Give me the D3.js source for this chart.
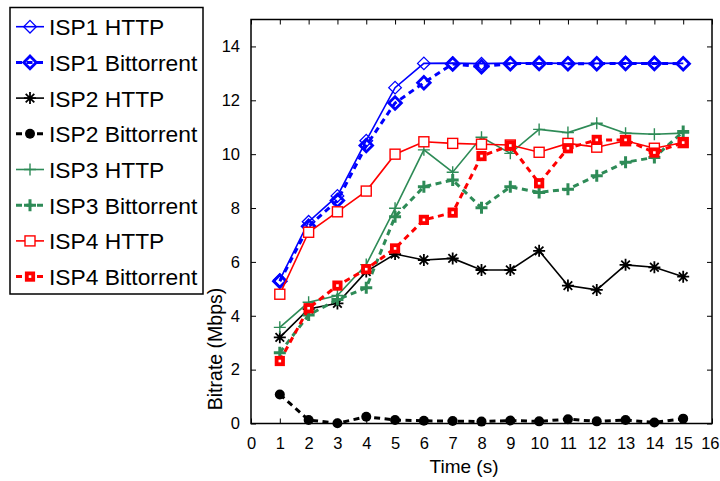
<!DOCTYPE html>
<html>
<head>
<meta charset="utf-8">
<script src="https://cdn.jsdelivr.net/npm/d3@7"></script>
<style>
	body { margin: 0; background: #fff; }
	svg { font-family: 'Liberation Sans', Arial, sans-serif; }
</style>
</head>
<body>
<svg id="chart-svg" width="720" height="481"></svg>
<script>
// data
const times = [1, 2, 3, 4, 5, 6, 7, 8, 9, 10, 11, 12, 13, 14, 15];
const isp1Http = [5.33, 7.49, 8.45, 10.5, 12.47, 13.37, 13.38, 13.36, 13.38, 13.38, 13.37, 13.37, 13.38, 13.38, 13.37];
const isp1Bt = [5.28, 7.32, 8.28, 10.32, 11.9, 12.65, 13.35, 13.25, 13.36, 13.37, 13.36, 13.36, 13.37, 13.37, 13.36];
const isp2Http = [3.2, 4.25, 4.46, 5.64, 6.29, 6.07, 6.13, 5.7, 5.7, 6.41, 5.12, 4.96, 5.89, 5.8, 5.45];
const isp2Bt = [1.08, 0.13, 0.01, 0.25, 0.13, 0.1, 0.09, 0.07, 0.11, 0.08, 0.16, 0.08, 0.13, 0.04, 0.18];
const isp3Http = [3.57, 4.5, 4.75, 5.9, 7.99, 10.16, 9.33, 10.63, 10.03, 10.92, 10.8, 11.15, 10.78, 10.74, 10.78];
const isp3Bt = [2.63, 4.03, 4.6, 5.04, 7.68, 8.79, 9.04, 8.01, 8.79, 8.58, 8.7, 9.2, 9.7, 9.88, 10.84];
const isp4Http = [4.8, 7.1, 7.86, 8.63, 10.0, 10.46, 10.4, 10.37, 10.34, 10.07, 10.4, 10.26, 10.5, 10.22, 10.43];
const isp4Bt = [2.32, 4.28, 5.12, 5.73, 6.5, 7.56, 7.83, 9.93, 10.32, 8.92, 10.22, 10.53, 10.53, 10.06, 10.43];

const xTicks = d3.range(0, 17);
const yTicks = [0, 2, 4, 6, 8, 10, 12, 14];

const GREEN = '#2e8b57';
const series = [
	{ name: 'ISP1 HTTP', values: isp1Http, color: '#0000ff', dashed: false, marker: 'diamond' },
	{ name: 'ISP1 Bittorrent', values: isp1Bt, color: '#0000ff', dashed: true, marker: 'diamond' },
	{ name: 'ISP2 HTTP', values: isp2Http, color: '#000000', dashed: false, marker: 'star' },
	{ name: 'ISP2 Bittorrent', values: isp2Bt, color: '#000000', dashed: true, marker: 'dot' },
	{ name: 'ISP3 HTTP', values: isp3Http, color: GREEN, dashed: false, marker: 'plus' },
	{ name: 'ISP3 Bittorrent', values: isp3Bt, color: GREEN, dashed: true, marker: 'plus' },
	{ name: 'ISP4 HTTP', values: isp4Http, color: '#ff0000', dashed: false, marker: 'square' },
	{ name: 'ISP4 Bittorrent', values: isp4Bt, color: '#ff0000', dashed: true, marker: 'square' }
];

const svg = d3.select('#chart-svg');
const x = d3.scaleLinear().domain([0, 16]).range([251, 712]);
const y = d3.scaleLinear().domain([0, 15]).range([423.5, 19.5]);

// plot box
svg.append('rect')
	.attr('x', 251).attr('y', 19.5)
	.attr('width', 461).attr('height', 404)
	.attr('fill', 'none').attr('stroke', '#000').attr('stroke-width', 1.5);

// axes with inward ticks
const tickLen = 5;
const xAxis = svg.append('g').attr('transform', 'translate(0,' + y(0) + ')')
	.call(d3.axisBottom(x).tickValues(xTicks).tickSizeInner(-tickLen).tickSizeOuter(0).tickPadding(14));
const xTop = svg.append('g').attr('transform', 'translate(0,' + y(15) + ')')
	.call(d3.axisTop(x).tickValues(xTicks).tickSizeInner(-tickLen).tickSizeOuter(0).tickFormat(''));
const yAxis = svg.append('g').attr('transform', 'translate(' + x(0) + ',0)')
	.call(d3.axisLeft(y).tickValues(yTicks).tickSizeInner(-tickLen).tickSizeOuter(0).tickPadding(11));
const yRight = svg.append('g').attr('transform', 'translate(' + x(16) + ',0)')
	.call(d3.axisRight(y).tickValues(yTicks).tickSizeInner(-tickLen).tickSizeOuter(0).tickFormat(''));
[xAxis, xTop, yAxis, yRight].forEach((g) => {
	g.select('.domain').remove();
	g.selectAll('line').attr('stroke', '#000').attr('stroke-width', 1);
	g.selectAll('text').attr('font-size', 16.5).attr('fill', '#000')
		.style('font-family', "'Liberation Sans', Arial, sans-serif");
});
// keep the last x label inside the window
xAxis.selectAll('text').filter((d) => d === 16).attr('text-anchor', 'end').attr('dx', 7);

// axis titles
svg.append('text')
	.attr('x', 464).attr('y', 473)
	.attr('text-anchor', 'middle').attr('font-size', 19)
	.text('Time (s)');
svg.append('text')
	.attr('transform', 'translate(222,349) rotate(-90)')
	.attr('text-anchor', 'middle').attr('font-size', 19.5)
	.text('Bitrate (Mbps)');

// marker drawing
function drawMarker(g, s) {
	const c = s.color;
	const sw = s.dashed ? 2.8 : 1.3;
	if (s.marker === 'diamond') {
		g.append('path').attr('d', 'M0,-6.3L6.3,0L0,6.3L-6.3,0Z')
			.attr('fill', 'none').attr('stroke', c).attr('stroke-width', sw);
	} else if (s.marker === 'square') {
		const h = s.dashed ? 3.2 : 5;
		g.append('rect').attr('x', -h).attr('y', -h).attr('width', 2 * h).attr('height', 2 * h)
			.attr('fill', '#fff').attr('stroke', c).attr('stroke-width', s.dashed ? 3.8 : 1.4);
	} else if (s.marker === 'dot') {
		g.append('circle').attr('r', 5).attr('fill', c);
	} else if (s.marker === 'plus') {
		g.append('path').attr('d', 'M-6,0H6M0,-6V6')
			.attr('stroke', c).attr('stroke-width', s.dashed ? 3 : 1.4);
	} else if (s.marker === 'star') {
		g.append('path').attr('d', 'M-6,0H6M0,-6V6M-4.3,-4.3L4.3,4.3M-4.3,4.3L4.3,-4.3')
			.attr('stroke', c).attr('stroke-width', 1.8);
	}
}

const line = d3.line().x((d) => x(d[0])).y((d) => y(d[1]));

// draw series
series.forEach((s) => {
	const pts = times.map((t, i) => [t, s.values[i]]);
	svg.append('path')
		.attr('d', line(pts))
		.attr('fill', 'none')
		.attr('stroke', s.color)
		.attr('stroke-width', s.dashed ? 3 : 1.6)
		.attr('stroke-dasharray', s.dashed ? '6,4.5' : null);
	svg.append('g').selectAll('g')
		.data(pts)
		.enter()
		.append('g')
		.attr('transform', (d) => 'translate(' + x(d[0]) + ',' + y(d[1]) + ')')
		.each(function () { drawMarker(d3.select(this), s); });
});

// legend
const legend = svg.append('g');
legend.append('rect')
	.attr('x', 10).attr('y', 7.5).attr('width', 193).attr('height', 286.5)
	.attr('fill', '#fff').attr('stroke', '#000').attr('stroke-width', 1.5);
const legendG = legend.selectAll('g.item')
	.data(series)
	.enter()
	.append('g')
	.attr('class', 'item')
	.attr('transform', (d, i) => 'translate(0,' + (26.7 + i * 35.7) + ')');
legendG.append('line')
	.attr('x1', 16).attr('x2', 44).attr('y1', 0).attr('y2', 0)
	.attr('stroke', (d) => d.color)
	.attr('stroke-width', (d) => d.dashed ? 3 : 1.6)
	.attr('stroke-dasharray', (d) => d.dashed ? '6,4.5' : null);
legendG.append('g')
	.attr('transform', 'translate(30,0)')
	.each(function (d) { drawMarker(d3.select(this), d); });
legendG.append('text')
	.attr('x', 49).attr('y', 8.5)
	.attr('font-size', 22.8)
	.text((d) => d.name);
</script>
</body>
</html>
